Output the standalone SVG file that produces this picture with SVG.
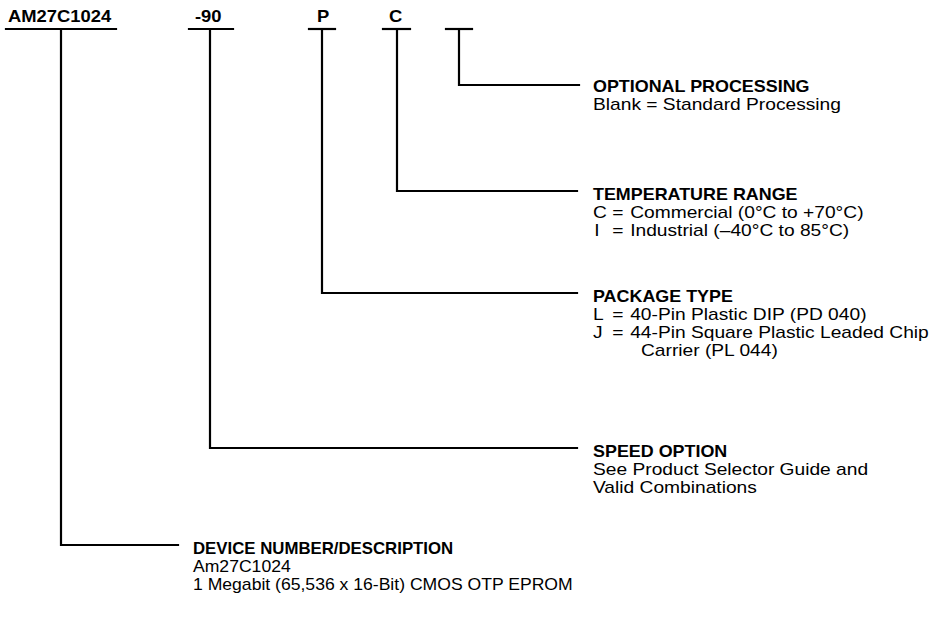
<svg xmlns="http://www.w3.org/2000/svg" width="940" height="625" viewBox="0 0 940 625">
<style>
.ln{stroke:#000;stroke-width:2.2;fill:none;stroke-linecap:square}
.top{font-family:"Liberation Sans",Arial,sans-serif;font-weight:bold;font-size:16px;fill:#000}
.hd{font-family:"Liberation Sans",Arial,sans-serif;font-weight:bold;font-size:16px;fill:#000}
.tx{font-family:"Liberation Sans",Arial,sans-serif;font-size:16px;fill:#000}
</style>
<rect width="940" height="625" fill="#fff"/>
<g id="code">
<g id="code-device"><text class="top" transform="translate(8 0) scale(1.15 1)" x="0" y="22">AM27C1024</text><line class="ln" x1="6" y1="29" x2="116" y2="29"/></g>
<g id="code-speed"><text class="top" transform="translate(195 0) scale(1.15 1)" x="0" y="22">-90</text><line class="ln" x1="189" y1="29" x2="233" y2="29"/></g>
<g id="code-package"><text class="top" transform="translate(317 0) scale(1.15 1)" x="0" y="22">P</text><line class="ln" x1="309" y1="29" x2="335" y2="29"/></g>
<g id="code-temp"><text class="top" transform="translate(389 0) scale(1.15 1)" x="0" y="22">C</text><line class="ln" x1="383" y1="29" x2="410" y2="29"/></g>
<g id="code-opt"><line class="ln" x1="446" y1="29" x2="472" y2="29"/></g>
</g>
<g id="connectors">
<polyline class="ln" points="459,29 459,85 579,85"/>
<polyline class="ln" points="397,29 397,191 577,191"/>
<polyline class="ln" points="322,29 322,293 577,293"/>
<polyline class="ln" points="210,29 210,448 577,448"/>
<polyline class="ln" points="61,29 61,545 178,545"/>
</g>
<g id="optional-processing">
<text class="hd" transform="translate(593 0) scale(1.12 1)" x="0" y="92">OPTIONAL PROCESSING</text>
<text class="tx" transform="translate(593 0) scale(1.2 1)" x="0" y="110">Blank = Standard Processing</text>
</g>
<g id="temperature-range">
<text class="hd" transform="translate(593 0) scale(1.12 1)" x="0" y="200">TEMPERATURE RANGE</text>
<text class="tx" transform="translate(593 0) scale(1.2 1)" y="218"><tspan x="0">C</tspan><tspan x="16">=</tspan><tspan x="31">Commercial (0°C to +70°C)</tspan></text>
<text class="tx" transform="translate(593 0) scale(1.2 1)" y="236"><tspan x="1">I</tspan><tspan x="16">=</tspan><tspan x="31">Industrial (–40°C to 85°C)</tspan></text>
</g>
<g id="package-type">
<text class="hd" transform="translate(593 0) scale(1.12 1)" x="0" y="302">PACKAGE TYPE</text>
<text class="tx" transform="translate(593 0) scale(1.2 1)" y="320"><tspan x="0">L</tspan><tspan x="16">=</tspan><tspan x="31">40-Pin Plastic DIP (PD 040)</tspan></text>
<text class="tx" transform="translate(593 0) scale(1.2 1)" y="338"><tspan x="0">J</tspan><tspan x="16">=</tspan><tspan x="31">44-Pin Square Plastic Leaded Chip</tspan></text>
<text class="tx" transform="translate(593 0) scale(1.2 1)" x="40" y="356">Carrier (PL 044)</text>
</g>
<g id="speed-option">
<text class="hd" transform="translate(593 0) scale(1.12 1)" x="0" y="457">SPEED OPTION</text>
<text class="tx" transform="translate(593 0) scale(1.2 1)" x="0" y="475">See Product Selector Guide and</text>
<text class="tx" transform="translate(593 0) scale(1.2 1)" x="0" y="493">Valid Combinations</text>
</g>
<g id="device-number">
<text class="hd" transform="translate(193 0) scale(1.05 1)" x="0" y="554">DEVICE NUMBER/DESCRIPTION</text>
<text class="tx" transform="translate(193 0) scale(1.1 1)" x="0" y="572">Am27C1024</text>
<text class="tx" transform="translate(193 0) scale(1.1 1)" x="0" y="590">1 Megabit (65,536 x 16-Bit) CMOS OTP EPROM</text>
</g>
</svg>
